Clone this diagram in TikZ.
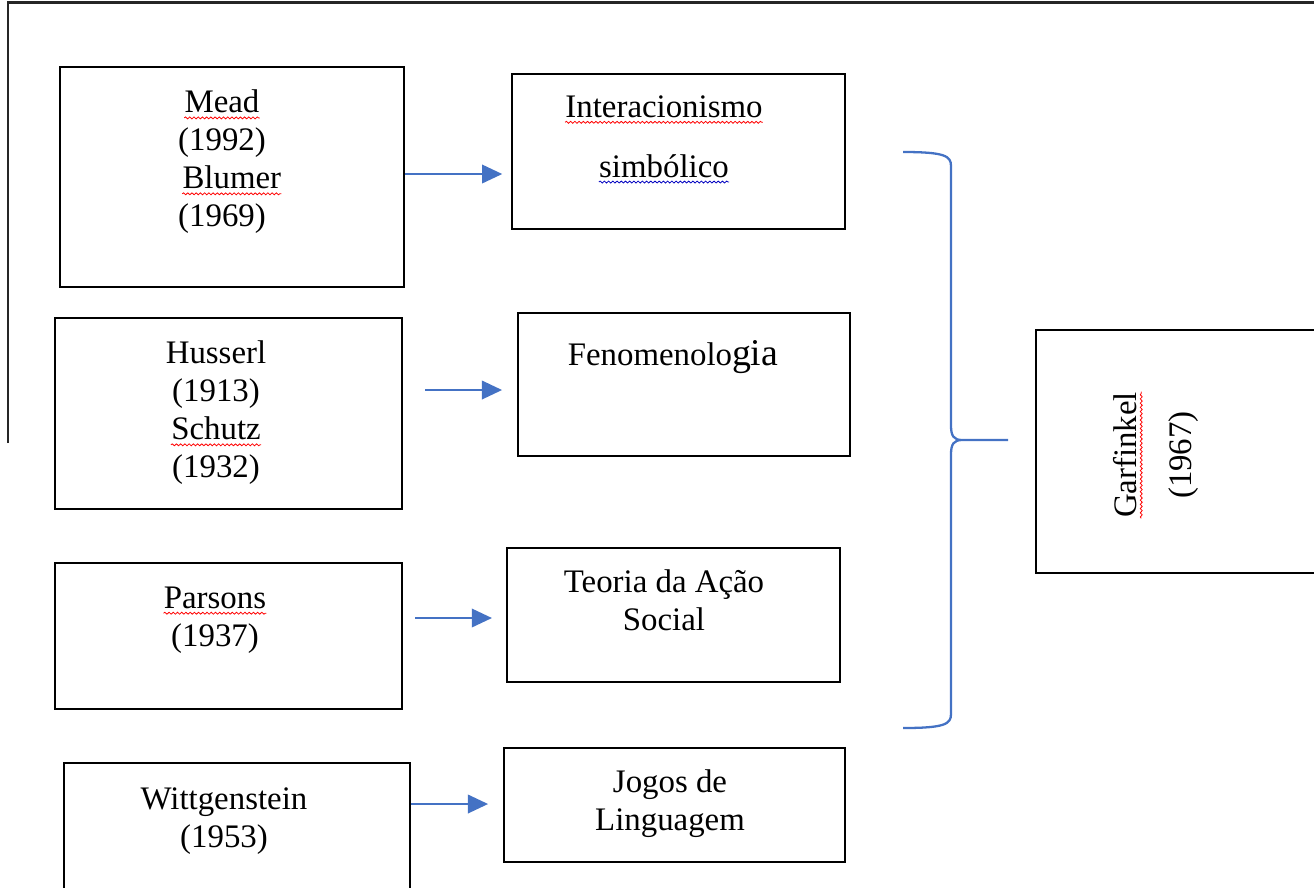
\documentclass[tikz,border=0pt]{standalone}
\usepackage{fontspec}
\setmainfont{Liberation Serif}
\usetikzlibrary{arrows.meta,positioning,decorations.pathmorphing}
\definecolor{wordblue}{HTML}{4472C4}
\def\px{0.02cm}
\newcommand{\squig}[2]{\tikz[baseline=(w.base)]{\node[inner sep=0pt] (w) {#2};
  \draw[#1, line width=0.45pt, decorate, decoration={snake, amplitude=0.55pt, segment length=2.4pt}]
    ([yshift=-2.8pt]w.base west) -- ([yshift=-2.8pt]w.base east);}}

\begin{document}
\begin{tikzpicture}[x=0.02cm, y=-0.02cm, font=\fontsize{18.7}{21.6}\selectfont,
  box/.style={draw, line width=1.1pt, inner sep=0pt},
  txt/.style={align=center, inner sep=0pt},
  link/.style={draw=wordblue, line width=1.3pt, -{Triangle[length=11.5pt, width=10.5pt]}}]
  \useasboundingbox (0,0) rectangle (1314,887);
  \draw[line width=1.7pt, black!85] (8,443) -- (8,2) -- (1314,2);
  % left column
  \node[box, minimum width=344*\px, minimum height=220*\px] (mead) at (232,177) {};
  \node[box, minimum width=347*\px, minimum height=191*\px] (huss) at (228.5,413.5) {};
  \node[box, minimum width=347*\px, minimum height=146*\px] (pars) at (228.5,636) {};
  \node[box, minimum width=346*\px, minimum height=142*\px] (witt) at (237,834) {};
  \node[txt] (mead-t) at (222,162) {\squig{red}{Mead}\\(1992)\\\hspace*{0.6em}\squig{red}{Blumer}\\(1969)};
  \node[txt] (huss-t) at (216,413) {Husserl\\(1913)\\\squig{red}{Schutz}\\(1932)};
  \node[txt] (pars-t) at (215,620) {\squig{red}{Parsons}\\(1937)};
  \node[txt] (witt-t) at (224,821) {Wittgenstein\\(1953)};
  % middle column
  \node[box, minimum width=333*\px, minimum height=155*\px] (inter) at (678.5,151.5) {};
  \node[box, minimum width=332*\px, minimum height=143*\px] (feno) at (684,384.5) {};
  \node[box, minimum width=333*\px, minimum height=134*\px] (teoria) at (673.5,615) {};
  \node[box, minimum width=341*\px, minimum height=114*\px] (jogos) at (674.5,805) {};
  \node[txt] (inter-t) at (664,139.5) {\squig{red}{Interacionismo}\\[12.4pt]\squig{blue!75!black}{simbólico}};
  \node[txt] (feno-t) at (673,357) {Fenomenolo{\fontsize{21.5}{24}\selectfont gia}};
  \node[txt] (teoria-t) at (664,600) {Teoria da Ação\\Social};
  \node[txt] (jogos-t) at (670,804) {Jogos de\\Linguagem};
  % right
  \node[box, minimum width=294*\px, minimum height=243*\px] (garf) at (1183,451.5) {};
  \node[txt, rotate=90] (garf-t) at (1156,455) {\squig{red}{Garfinkel}\\[10pt](1967)};
  % arrows
  \coordinate (s1) at (405,174);
  \coordinate (s2) at (425,390);
  \coordinate (s3) at (415,618);
  \coordinate (s4) at (411,804);
  \draw[link, shorten >=5pt] (s1) -- (s1 -| inter.west);
  \draw[link, shorten >=8.5pt] (s2) -- (s2 -| feno.west);
  \draw[link, shorten >=8pt] (s3) -- (s3 -| teoria.west);
  \draw[link, shorten >=8.5pt] (s4) -- (s4 -| jogos.west);
  % brace
  \coordinate (btop) at (903,152);
  \coordinate (bbot) at (903,728);
  \coordinate (bcusp) at (962,440);
  \coordinate (tip) at (1008,440);
  \draw[wordblue, line width=1.3pt] (btop) .. controls (945,152) and (951,156) .. (951,166)
    -- (951,426) .. controls (951,436) and (954,440) .. (bcusp) -- (tip)
    (bcusp) .. controls (954,440) and (951,444) .. (951,454)
    -- (951,714) .. controls (951,724) and (945,728) .. (bbot);
\end{tikzpicture}
\end{document}
